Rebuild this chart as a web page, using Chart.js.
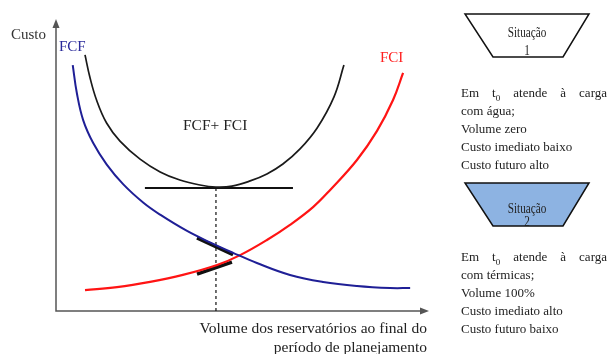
<!DOCTYPE html>
<html>
<head>
<meta charset="utf-8">
<script src="https://cdn.jsdelivr.net/npm/chart.js@4.4.1/dist/chart.umd.min.js"></script>
<style>
  html, body { margin: 0; padding: 0; background: #fff; }
  #wrap { position: relative; width: 612px; height: 354px; overflow: hidden;
          font-family: "Liberation Serif", "Times New Roman", serif; color: #222; }
  #wrap canvas { position: absolute; left: 0; top: 0; }
  .box { position: absolute; left: 461px; width: 146px; font-size: 13px; line-height: 18px; }
  .just { text-align: justify; text-align-last: justify; }
  .sit { position: absolute; left: 477px; width: 100px; text-align: center; font-size: 14px;
         transform: scaleX(0.8); transform-origin: 50% 50%; }
  .sit div { height: 0; position: relative; }
  .sit span { position: absolute; left: 0; right: 0; transform: translateY(-50%); }
  sub { font-size: 9px; line-height: 0; }
</style>
</head>
<body>
<div id="wrap">
  <canvas id="custoChart" width="612" height="354"></canvas>
  <div class="sit" style="top:33px">
    <div><span>Situação</span></div>
    <div style="top:18px"><span>1</span></div>
  </div>
  <div class="box" style="top:84px">
    <div class="just">Em t<sub>0</sub> atende à carga</div>
    <div>com água;</div>
    <div>Volume zero</div>
    <div>Custo imediato baixo</div>
    <div>Custo futuro alto</div>
  </div>
  <div class="sit" style="top:209px">
    <div><span>Situação</span></div>
    <div style="top:13px"><span>2</span></div>
  </div>
  <div class="box" style="top:248px">
    <div class="just">Em t<sub>0</sub> atende à carga</div>
    <div>com térmicas;</div>
    <div>Volume 100%</div>
    <div>Custo imediato alto</div>
    <div>Custo futuro baixo</div>
  </div>
</div>
<script>
// volume (% do eixo) x custo (% do eixo)
const fcfVolume = [4.5, 5.6, 7.3, 10.0, 13.6, 18.1, 23.5, 28.0, 35.1, 41.4, 47.6, 54.0, 62.9, 71.8, 80.9, 89.8, 95.2];
const fcfCusto  = [84.5, 74.9, 65.6, 57.7, 50.4, 43.5, 37.2, 33.1, 27.6, 23.6, 20.0, 16.5, 12.4, 10.0, 8.6, 7.9, 7.9];

const fciVolume = [7.8, 16.4, 25.3, 34.1, 43.3, 49.5, 56.7, 62.9, 69.1, 73.7, 80.9, 86.3, 90.6, 93.3];
const fciCusto  = [7.2, 8.2, 10.0, 12.4, 15.8, 19.2, 24.4, 29.6, 35.7, 41.6, 51.9, 61.9, 72.5, 81.8];

const somaVolume = [7.8, 9.1, 10.9, 13.6, 17.2, 22.6, 28.0, 33.3, 38.7, 43.0, 47.3, 52.2, 56.7, 61.0, 65.6, 70.2, 74.7, 77.4];
const somaCusto  = [88.0, 80.4, 72.5, 64.6, 58.4, 52.2, 47.8, 45.0, 43.3, 42.6, 42.9, 44.7, 47.1, 50.5, 55.7, 62.9, 73.5, 84.5];

const tangenteMinVolume = [23.9, 63.7];
const tangenteMinCusto  = [42.3, 42.3];
const otimoVolume = [43.0, 43.0];
const otimoCusto  = [42.3, 0];
const tangenteFcfVolume = [37.9, 47.6];
const tangenteFcfCusto  = [25.1, 19.4];
const tangenteFciVolume = [37.9, 47.3];
const tangenteFciCusto  = [12.7, 16.8];

function toPoints(xs, ys) {
  return xs.map((x, i) => ({ x: x, y: ys[i] }));
}

const serif = '"Liberation Serif", "Times New Roman", serif';

const decoracao = {
  id: 'decoracao',
  beforeDatasetsDraw(chart) {
    const { ctx, chartArea: a } = chart;
    ctx.save();
    ctx.strokeStyle = '#555';
    ctx.fillStyle = '#555';
    ctx.lineWidth = 1.5;
    ctx.beginPath();
    ctx.moveTo(a.left, a.top + 6);
    ctx.lineTo(a.left, a.bottom);
    ctx.lineTo(a.right - 6, a.bottom);
    ctx.stroke();
    // setas
    ctx.beginPath();
    ctx.moveTo(a.left, a.top - 1);
    ctx.lineTo(a.left - 3.5, a.top + 8);
    ctx.lineTo(a.left + 3.5, a.top + 8);
    ctx.closePath();
    ctx.fill();
    ctx.beginPath();
    ctx.moveTo(a.right + 1, a.bottom);
    ctx.lineTo(a.right - 8, a.bottom - 3.5);
    ctx.lineTo(a.right - 8, a.bottom + 3.5);
    ctx.closePath();
    ctx.fill();
    ctx.restore();
  },
  afterDraw(chart) {
    const { ctx } = chart;
    ctx.save();
    ctx.textBaseline = 'middle';
    ctx.textAlign = 'left';
    ctx.font = '15px ' + serif;
    ctx.fillStyle = '#333';
    ctx.fillText('Custo', 11, 35);
    ctx.fillStyle = '#2a2a9a';
    ctx.fillText('FCF', 59, 47);
    ctx.fillStyle = '#ff2020';
    ctx.fillText('FCI', 380, 58);
    ctx.fillStyle = '#222';
    ctx.font = '15.5px ' + serif;
    ctx.fillText('FCF+ FCI', 183, 126);
    ctx.textAlign = 'right';
    ctx.fillText('Volume dos reservatórios ao final do', 427, 329);
    ctx.fillText('período de planejamento', 427, 348);

    // trapézios das situações
    const trapezios = [
      { top: 14, bottom: 57, fill: '#ffffff' },
      { top: 183, bottom: 226, fill: '#8db3e2' }
    ];
    trapezios.forEach(t => {
      ctx.beginPath();
      ctx.moveTo(465, t.top);
      ctx.lineTo(589, t.top);
      ctx.lineTo(563, t.bottom);
      ctx.lineTo(493, t.bottom);
      ctx.closePath();
      ctx.fillStyle = t.fill;
      ctx.fill();
      ctx.strokeStyle = '#111';
      ctx.lineWidth = 1.5;
      ctx.stroke();
    });
    ctx.restore();
  }
};

const ctx = document.getElementById('custoChart');
new Chart(ctx, {
  type: 'line',
  data: {
    datasets: [
      { label: 'FCF', data: toPoints(fcfVolume, fcfCusto), borderColor: '#1f1f96', borderWidth: 2, tension: 0.4 },
      { label: 'FCI', data: toPoints(fciVolume, fciCusto), borderColor: '#ff1414', borderWidth: 2.2, tension: 0.4 },
      { label: 'FCF+ FCI', data: toPoints(somaVolume, somaCusto), borderColor: '#1a1a1a', borderWidth: 1.7, tension: 0.4 },
      { label: 'tangente', data: toPoints(tangenteMinVolume, tangenteMinCusto), borderColor: '#111', borderWidth: 2 },
      { label: 'ótimo', data: toPoints(otimoVolume, otimoCusto), borderColor: '#111', borderWidth: 1.2, borderDash: [3, 3] },
      { label: 'dFCF', data: toPoints(tangenteFcfVolume, tangenteFcfCusto), borderColor: '#111', borderWidth: 3.5 },
      { label: 'dFCI', data: toPoints(tangenteFciVolume, tangenteFciCusto), borderColor: '#111', borderWidth: 3.5 }
    ]
  },
  options: {
    responsive: false,
    animation: false,
    layout: { padding: { left: 56, right: 184, top: 20, bottom: 43 } },
    elements: { point: { radius: 0 } },
    scales: {
      x: { type: 'linear', min: 0, max: 100, display: false },
      y: { type: 'linear', min: 0, max: 100, display: false }
    },
    plugins: {
      legend: { display: false },
      tooltip: { enabled: false }
    }
  },
  plugins: [decoracao]
});
</script>
</body>
</html>
